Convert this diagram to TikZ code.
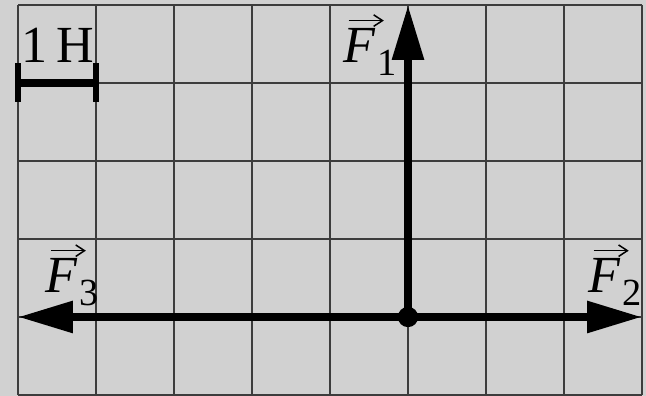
\documentclass[tikz,border=0pt]{standalone}
\usepackage{fontspec}
\setmainfont{Liberation Serif}
\usetikzlibrary{arrows.meta}
\definecolor{bgc}{HTML}{D1D1D1}
\definecolor{gridc}{HTML}{3C3C3C}
\newcommand{\forcelabel}[1]{\textit{F}\kern0.5pt\raisebox{-4.8pt}{\fontsize{14}{16}\selectfont #1}}
\tikzset{
  gridline/.style={draw=gridc, line width=0.75pt},
  force/.style={line width=3pt, -{Triangle[length=20pt,width=11pt]}},
  scalebar/.style={line width=2.9pt},
  scaletick/.style={line width=2.4pt},
  lbl/.style={inner sep=0pt, anchor=base west, font=\fontsize{19}{22}\selectfont},
  vecarr/.style={line width=0.55pt, -{Straight Barb[length=3.2pt,width=4.2pt]}},
}
\begin{document}
\begin{tikzpicture}
\useasboundingbox (-0.2308,-0.0128) rectangle (8.0513,5.0641);
\fill[bgc] (-0.2308,-0.0128) rectangle (8.0513,5.0641);
\draw[gridline] (0,0) grid (8,5);
% forces
\coordinate (O) at (5,1);
\coordinate (T1) at (5,5);
\coordinate (T2) at (8,1);
\coordinate (T3) at (0,1);
\draw[force] (O) -- (T1);
\draw[force] (O) -- (T2);
\draw[force] (O) -- (T3);
\fill (O) circle (0.13);
\node[lbl] (L1) at (4.17,4.26) {\forcelabel{1}};
\node[lbl] (L2) at (7.31,1.31) {\forcelabel{2}};
\node[lbl] (L3) at (0.35,1.31) {\forcelabel{3}};
\draw[vecarr] ([xshift=0.07cm,yshift=0.54cm]L1.base west) -- ++(0.45,0);
\draw[vecarr] ([xshift=0.07cm,yshift=0.54cm]L2.base west) -- ++(0.45,0);
\draw[vecarr] ([xshift=0.07cm,yshift=0.54cm]L3.base west) -- ++(0.45,0);
% scale bar
\coordinate (S0) at (0,4);
\coordinate (S1) at (1,4);
\draw[scalebar] (S0) -- (S1);
\draw[scaletick] ([yshift=0.25cm]S0) -- ([yshift=-0.25cm]S0);
\draw[scaletick] ([yshift=0.25cm]S1) -- ([yshift=-0.25cm]S1);
\node[lbl] (SL) at (0.04,4.26) {1\kern0.17em H};
\end{tikzpicture}
\end{document}
